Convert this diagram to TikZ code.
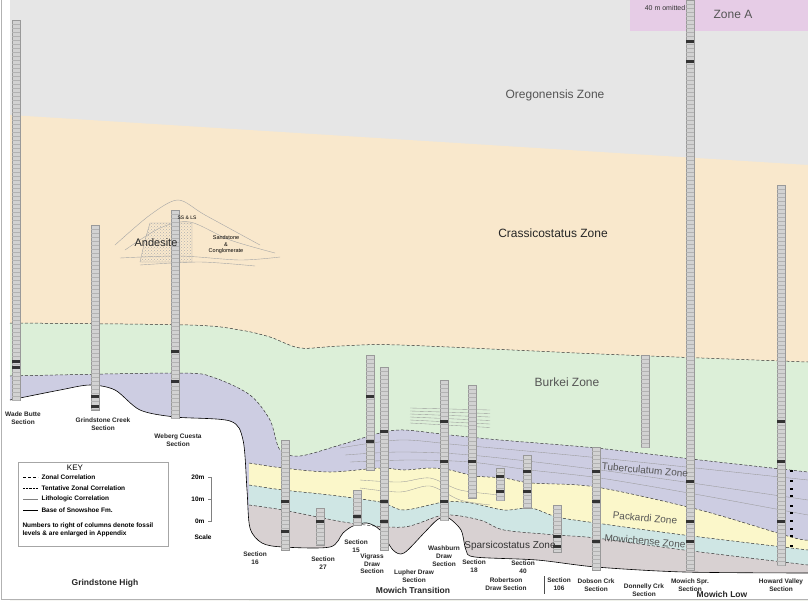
\documentclass[tikz,border=0pt]{standalone}
\usepackage{fontspec}
\setmainfont{Liberation Sans}
\usetikzlibrary{patterns}
\definecolor{oreg}{HTML}{E6E6E6}
\definecolor{crass}{HTML}{F9E8CC}
\definecolor{burk}{HTML}{DCEFD8}
\definecolor{tub}{HTML}{CDCDE2}
\definecolor{pack}{HTML}{FBF7CA}
\definecolor{mow}{HTML}{CFE6E4}
\definecolor{spar}{HTML}{D8D1D2}
\definecolor{zonea}{HTML}{E6CCE6}
\definecolor{ztxt}{HTML}{555555}
\tikzset{
 zlab/.style={text=ztxt,font=\fontsize{12}{13}\selectfont},
 slab/.style={align=center,font=\fontsize{6.5}{8}\selectfont\bfseries,text=black!85,inner sep=1pt},
 rlab/.style={font=\fontsize{8.5}{10}\selectfont\bfseries,text=black!85},
 zbound/.style={densely dashed,black!80,line width=0.5pt},
 litho/.style={gray!80,line width=0.35pt},
 colbox/.style={draw=gray!80,line width=0.3pt,fill=gray!35},
 kl/.style={anchor=west,font=\fontsize{6.5}{7.5}\selectfont\bfseries}
}
\begin{document}
\begin{tikzpicture}[x=1pt,y=-1pt]
\useasboundingbox (0,0) rectangle (808,600);
\fill[white] (0,0) rectangle (808,600);
% bands
\fill[oreg] (10,0) rectangle (808,600);
\fill[zonea] (630,0) rectangle (808,31);
\fill[crass] (10,115) -- (808,165) -- (808,600) -- (10,600) -- cycle;
\fill[burk] plot[smooth] coordinates {(10,323)(190,325)(240,330)(270,337)(300,348)(340,346)(400,345)(600,354)(808,362)} -- (808,600) -- (10,600) -- cycle;
\fill[tub] plot[smooth] coordinates {(10,376)(180,373)(215,378)(250,395)(270,420)(280,450)(300,456)(340,445)(380,433)(404,430)(450,435)(500,440)(596,448)(700,460)(808,472)} -- (808,600) -- (10,600) -- cycle;
\fill[pack] plot[smooth] coordinates {(249,463)(283,468)(330,472)(380,468)(404,470)(430,468)(450,470)(475,476)(504,478)(531,483)(596,487)(700,510)(791,537)(808,540)} -- (808,600) -- (249,600) -- cycle;
\fill[mow] plot[smooth] coordinates {(249,485)(283,490)(330,495)(380,502)(404,510)(444,502)(471,503)(504,510)(531,508)(557,517)(596,523)(684,535)(808,550)} -- (808,600) -- (249,600) -- cycle;
\fill[spar] plot[smooth] coordinates {(249,505)(283,510)(350,523)(404,527)(444,515)(480,520)(504,530)(557,535)(596,538)(684,550)(808,565)} -- (808,600) -- (249,600) -- cycle;
\fill[white] plot[smooth] coordinates {(10,400)(60,390)(90,385)(115,390)(140,410)(175,417)(230,421)(243,440)(247,490)(250,528)(262,543)(283,547)(330,547)(343,533)(353,526)(367,523)(380,530)(393,550)(404,553)(424,533)(437,520)(447,517)(461,530)(466,550)(475,557)(537,560)(596,567)(684,572)(808,573)} -- (808,600) -- (10,600) -- cycle;
% boundaries
\draw[zbound] plot[smooth] coordinates {(10,323)(190,325)(240,330)(270,337)(300,348)(340,346)(400,345)(600,354)(808,362)};
\draw[zbound] plot[smooth] coordinates {(10,376)(180,373)(215,378)(250,395)(270,420)(280,450)(300,456)(340,445)(380,433)(404,430)(450,435)(500,440)(596,448)(700,460)(808,472)};
\draw[zbound] plot[smooth] coordinates {(249,463)(283,468)(330,472)(380,468)(404,470)(430,468)(450,470)(475,476)(504,478)(531,483)(596,487)(700,510)(791,537)(808,540)};
\draw[zbound] plot[smooth] coordinates {(249,485)(283,490)(330,495)(380,502)(404,510)(444,502)(471,503)(504,510)(531,508)(557,517)(596,523)(684,535)(808,550)};
\draw[zbound] plot[smooth] coordinates {(249,505)(283,510)(350,523)(404,527)(444,515)(480,520)(504,530)(557,535)(596,538)(684,550)(808,565)};
\draw[black,line width=0.6pt] plot[smooth] coordinates {(10,400)(60,390)(90,385)(115,390)(140,410)(175,417)(230,421)(243,440)(247,490)(250,528)(262,543)(283,547)(330,547)(343,533)(353,526)(367,523)(380,530)(393,550)(404,553)(424,533)(437,520)(447,517)(461,530)(466,550)(475,557)(537,560)(596,567)(684,572)(808,573)};
% lithologic correlations
\draw[litho] plot[smooth] coordinates {(340,448)(400,440)(460,445)(600,458)(808,480)};
\draw[litho] plot[smooth] coordinates {(345,455)(400,452)(470,455)(600,470)(808,500)};
\draw[litho] plot[smooth] coordinates {(350,462)(410,460)(470,462)(530,470)(600,478)(700,495)(808,515)};
\draw[litho] plot[smooth] coordinates {(360,480)(400,482)(430,478)(460,490)(500,495)};
\draw[litho] plot[smooth] coordinates {(360,488)(400,492)(430,486)(460,500)(490,505)};
\foreach \i in {0,...,5}{\draw[litho] (410,{408+\i*3}) -- (490,{410+\i*3.5});}
% andesite and sandstone lenses
\draw[gray!70] plot[smooth] coordinates {(115,245)(150,215)(178,200)(205,215)(260,245)};
\draw[gray!70] plot[smooth] coordinates {(125,250)(160,228)(190,222)(230,240)(275,253)};
\draw[gray!70] plot[smooth] coordinates {(120,258)(180,256)(240,260)(280,257)};
\draw[gray!70] plot[smooth] coordinates {(140,265)(200,262)(255,266)};
\filldraw[draw=gray!70,pattern=crosshatch dots,pattern color=gray!60] (150,223) -- (192,223) -- (192,262) -- (140,262) -- (145,240) -- cycle;
% columns
\foreach \x/\t/\b in {16/20/400,95/225/410,175/210/418,285/440/550,320/508/545,357/490/525,370/355/470,384/367/550,444/380/520,472/385/498,500/468/500,527/455/508,557/505/552,596/447/570,645/355/447,690/0/570,781/185/565}{
  \draw[colbox] ({\x-4},\t) rectangle ({\x+4},\b);
  \foreach \yy in {\t,...,\b}{}
  \pgfmathtruncatemacro{\n}{(\b-\t)/4}
  \foreach \k in {1,...,\n}{\draw[gray!60,line width=0.3pt] ({\x-4},{\t+4*\k}) -- ({\x+4},{\t+4*\k});}
}
\foreach \x/\y in {16/360,16/366,95/395,95/405,175/380,175/350,370/395,370/440,384/430,384/500,384/520,444/420,444/460,472/460,500/475,500/490,527/470,527/490,557/535,596/470,596/500,596/540,690/40,690/60,690/480,690/520,690/540,781/420,781/460,781/520,285/500,285/530,320/520,357/515,444/500,557/545}{
  \fill[black!80] ({\x-4},\y) rectangle ({\x+4},{\y+3});
}
\foreach \y in {470,480,488,495,505,512,520,528,535,545}{\fill[black] (790,\y) rectangle (793,{\y+1.5});}
% zone labels
\node[font=\fontsize{7}{8}\selectfont,text=black!80] (om) at (665,8) {40 m omitted};
\node[zlab] (za) at (733,14) {Zone A};
\node[zlab] (oz) at (555,95) {Oregonensis Zone};
\node[zlab,text=black!85] (cz) at (553,233) {Crassicostatus Zone};
\node[zlab] (bz) at (567,382) {Burkei Zone};
\node[zlab,font=\fontsize{10}{11}\selectfont,rotate=-5] (tz) at (645,470) {Tuberculatum Zone};
\node[zlab,font=\fontsize{10}{11}\selectfont,rotate=-5] (pz) at (645,518) {Packardi Zone};
\node[zlab,font=\fontsize{10}{11}\selectfont,rotate=-5] (mz) at (645,541) {Mowichense Zone};
\node[zlab,font=\fontsize{10}{11}\selectfont,text=black!80] (sz) at (510,546) {Sparsicostatus Zone};
\node[font=\fontsize{11}{12}\selectfont,text=black!85] (an) at (156,243) {Andesite};
\node[align=center,font=\fontsize{5.5}{6.5}\selectfont] (sc) at (226,245) {Sandstone\\\&\\Conglomerate};
\node[font=\fontsize{5}{6}\selectfont] (ss) at (187,218) {SS \& LS};
% section labels
\node[slab] (l1) at (23,418) {Wade Butte\\Section};
\node[slab] (l2) at (103,424) {Grindstone Creek\\Section};
\node[slab] (l3) at (178,440) {Weberg Cuesta\\Section};
\node[slab] (l4) at (255,558) {Section\\16};
\node[slab] (l5) at (323,563) {Section\\27};
\node[slab] (l6) at (356,546) {Section\\15};
\node[slab,font=\fontsize{6.5}{7.5}\selectfont\bfseries] (l7) at (372,564) {Vigrass\\Draw\\Section};
\node[slab] (l8) at (414,576) {Lupher Draw\\Section};
\node[slab] (l9) at (444,556) {Washburn\\Draw\\Section};
\node[slab] (l10) at (474,566) {Section\\18};
\node[slab] (l11) at (506,584) {Robertson\\Draw Section};
\node[slab] (l12) at (523,567) {Section\\40};
\node[slab] (l13) at (559,584) {Section\\106};
\node[slab] (l14) at (596,585) {Dobson Crk\\Section};
\node[slab] (l15) at (644,590) {Donnelly Crk\\Section};
\node[slab] (l16) at (690,585) {Mowich Spr.\\Section};
\node[slab] (l17) at (781,585) {Howard Valley\\Section};
\node[rlab] (r1) at (105,583) {Grindstone High};
\node[rlab] (r2) at (413,590) {Mowich Transition};
\node[rlab] (r3) at (722,594) {Mowich Low};
\draw[black!70] (544,576) -- (544,594);
% key
\node[draw=gray!70,fill=white,minimum width=150pt,minimum height=84pt,anchor=north west] (key) at (18,462) {};
\node[font=\fontsize{8}{9}\selectfont] (kt) at (75,468) {KEY};
\draw[densely dashed] (23,477) -- (38,477); \node[kl] (k1) at (38,477) {Zonal Correlation};
\draw[densely dotted] (23,488) -- (38,488); \node[kl] (k2) at (38,488) {Tentative Zonal Correlation};
\draw[gray] (23,499) -- (38,499); \node[kl] (k3) at (38,499) {Lithologic Correlation};
\draw[black,line width=0.7pt] (23,510) -- (38,510); \node[kl] (k4) at (38,510) {Base of Snowshoe Fm.};
\node[kl,align=left] (k5) at (19,530) {Numbers to right of columns denote fossil\\levels \& are enlarged in Appendix};
% scale
\draw[gray] (208,477) -- (211,477) -- (211,521) -- (208,521) (208,499) -- (211,499);
\node[kl,anchor=east] (s1) at (208,477) {20m};
\node[kl,anchor=east] (s2) at (208,499) {10m};
\node[kl,anchor=east] (s3) at (208,521) {0m};
\node[kl,anchor=center] (s4) at (203,537) {Scale};
% frame
\draw[gray!60,line width=1pt] (1,0) -- (1,599) -- (808,599);
\end{tikzpicture}
\end{document}
